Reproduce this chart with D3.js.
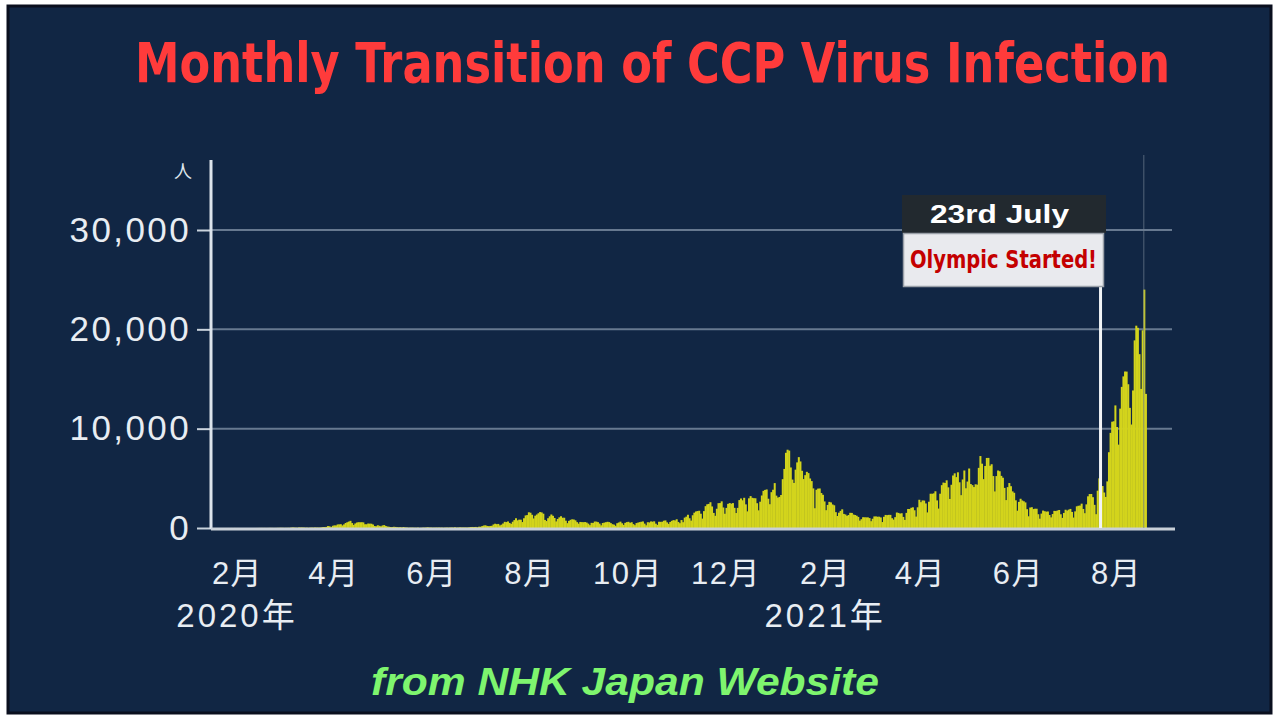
<!DOCTYPE html>
<html>
<head>
<meta charset="utf-8">
<script src="https://cdn.jsdelivr.net/npm/d3@7"></script>
<style>
  html, body { margin: 0; padding: 0; background: #ffffff; }
  svg { display: block; }
</style>
</head>
<body>
<svg id="chart" width="1280" height="720"></svg>
<script>
// ---- DATA (daily new infections) ----
const startDate = "2020-01-16";
const cases2020_01 = [1,0,0,0,0,0,0,1,1,0,2,1,3,1,4,1];
const cases2020_02 = [2,1,0,0,0,0,0,0,0,0,0,0,3,5,8,7,7,6,3,9,12,10,6,5,9,14,18,24,15];
const cases2020_03 = [12,15,17,19,33,59,45,31,27,58,54,56,44,34,35,20,43,40,39,52,43,44,37,66,95,97,112,194,173,87,221];
const cases2020_04 = [266,254,355,364,380,257,365,502,576,644,720,494,310,456,549,585,574,583,565,373,378,448,436,432,351,201,179,274,222,168];
const cases2020_05 = [260,293,201,151,123,100,96,123,108,84,70,87,55,99,57,54,30,31,41,33,25,26,38,14,21,36,40,40,73,48,45];
const cases2020_06 = [36,31,43,39,45,38,37,24,40,41,38,45,55,41,73,41,44,68,58,49,58,48,49,78,96,105,100,108,75,129];
const cases2020_07 = [129,195,249,273,209,190,207,223,355,429,385,410,258,337,453,622,596,660,510,419,631,795,981,768,839,836,598,981,1264,1301,1580];
const cases2020_08 = [1539,1331,958,1238,1356,1485,1605,1565,1441,815,700,985,1177,1360,1227,1011,661,910,1070,1182,1034,1032,737,488,719,823,877,851,770,588,436];
const cases2020_09 = [610,590,585,600,545,438,284,520,509,649,643,589,446,269,502,543,581,624,593,492,385,338,224,482,553,639,473,311,519,590];
const cases2020_10 = [623,521,582,393,281,496,543,593,628,658,443,272,581,557,659,636,670,435,315,628,621,625,731,763,568,414,609,721,794,759,878];
const cases2020_11 = [612,483,800,583,1046,1141,1333,982,743,1283,1543,1662,1706,1736,1438,947,1700,2201,2386,2425,2596,2168,1518,1228,1938,2499,2508,2684,2067,1433];
const cases2020_12 = [2024,2430,2510,2446,2507,2029,1506,2024,2811,2971,2788,3041,2379,1673,2988,3211,3041,2999,2993,2494,1777,2646,3271,3740,3832,3881,2947,2395,3608,3852,4520];
const cases2021_01 = [3258,3059,3128,3321,4915,5946,7570,7882,7790,6094,4875,4536,5874,6605,7133,6700,5759,4925,5320,5654,5526,4985,4722,3987,1989,3852,3964,3979,3520,3341,2676];
const cases2021_02 = [1791,2323,2631,2575,2368,2287,1595,1209,1542,1724,1880,1418,1360,1222,1309,1528,1518,1354,1309,1236,1116,741,886,1085,1077,1070,1067,999];
const cases2021_03 = [683,932,1165,1161,1135,1138,1064,599,1129,1316,1293,1322,1320,986,844,1093,1559,1518,1447,1486,1116,815,1522,1915,1909,2035,2081,1785,1149,2084,2843];
const cases2021_04 = [2600,2775,2759,2472,1569,2645,3451,3442,3487,3697,2779,1955,3451,4312,4573,4532,4801,4093,2924,4353,5285,5504,5121,5606,4602,3307,4882,5790,4000,4676];
const cases2021_05 = [5989,4426,4314,4120,4400,4359,6054,7244,6475,4918,6242,7051,7058,6266,6419,5229,3680,5228,5788,5713,5247,5062,4038,2808,4116,4526,4208,3686,3545,2789,1739];
const cases2021_06 = [2629,2943,2771,2689,2575,1893,1178,2058,2092,1908,1939,1939,1387,937,1450,1753,1688,1644,1662,1307,1069,1407,1724,1706,1762,1814,1381,1017,1516,1839];
const cases2021_07 = [1753,1849,1921,1618,1049,1675,2182,2238,2254,2450,1918,1490,2381,3191,3419,3423,3102,2331,1391,3758,5001,5395,4225,3574,3127,4692,7629,9576,10699,10743,12341];
const cases2021_08 = [10168,8392,12016,14207,15263,15753,15746,14472,12096,10416,13846,18889,20366,20151,17500,14000,19900,24000,13500];

const yTicks = [0, 10000, 20000, 30000];
const monthTicks = ["2020-02-01","2020-04-01","2020-06-01","2020-08-01","2020-10-01","2020-12-01",
                    "2021-02-01","2021-04-01","2021-06-01","2021-08-01"];
const yearLabels = [{date:"2020-02-01", text:"2020年"}, {date:"2021-02-01", text:"2021年"}];
const olympicDate = "2021-07-23";
const titleText = "Monthly Transition of CCP Virus Infection";
const sourceText = "from NHK Japan Website";
const unitText = "人";

// ---- BUILD ----
const allCases = [].concat(cases2020_01, cases2020_02, cases2020_03, cases2020_04, cases2020_05, cases2020_06,
  cases2020_07, cases2020_08, cases2020_09, cases2020_10, cases2020_11, cases2020_12,
  cases2021_01, cases2021_02, cases2021_03, cases2021_04, cases2021_05, cases2021_06,
  cases2021_07, cases2021_08);
const parse = d3.utcParse("%Y-%m-%d");
const d0 = parse(startDate);
const data = allCases.map((v, i) => ({ date: d3.utcDay.offset(d0, i), value: v }));

const svg = d3.select("#chart");
const navy = "#112644";
const axisFont = "'Liberation Sans', 'Noto Sans CJK JP', Arial, sans-serif";

// frame
svg.append("rect").attr("x", 0).attr("y", 0).attr("width", 1280).attr("height", 720).attr("fill", "#ffffff");
svg.append("rect").attr("x", 8).attr("y", 6).attr("width", 1263).attr("height", 707)
  .attr("fill", navy).attr("stroke", "#0a0f1e").attr("stroke-width", 3);

// scales
const x = d3.scaleUtc()
  .domain([parse("2020-02-01"), parse("2021-08-01")])
  .range([237, 1116]);
const y = d3.scaleLinear().domain([0, 30000]).range([528, 230]);

// title (condensed, slightly stretched vertically)
svg.append("text")
  .attr("transform", "translate(135,82) scale(1,1.2)")
  .attr("x", 0).attr("y", 0)
  .attr("textLength", 1035).attr("lengthAdjust", "spacingAndGlyphs")
  .attr("font-family", "'DejaVu Sans Condensed', 'DejaVu Sans', sans-serif")
  .attr("font-weight", "bold").attr("font-size", 46)
  .attr("fill", "#ff3b3b")
  .text(titleText);

// gridlines
svg.append("g").selectAll("line").data(yTicks.filter(d => d > 0)).join("line")
  .attr("x1", 211).attr("x2", 1172)
  .attr("y1", d => y(d)).attr("y2", d => y(d))
  .attr("stroke", "#7d8ea3").attr("stroke-width", 2).attr("opacity", 0.8);

// y axis
const yAxis = d3.axisLeft(y).tickValues(yTicks).tickFormat(d3.format(",")).tickSize(14).tickPadding(6);
const gy = svg.append("g").attr("transform", "translate(211,0)").call(yAxis);
gy.select(".domain").remove();
gy.selectAll(".tick line").attr("stroke", "#c9d2dc").attr("stroke-width", 2);
gy.selectAll(".tick text")
  .attr("fill", "#e8edf3")
  .attr("font-family", axisFont)
  .attr("font-size", 35)
  .attr("letter-spacing", 2.4);

svg.append("text").attr("x", 183).attr("y", 178).attr("text-anchor", "middle")
  .attr("fill", "#dfe6ee").attr("font-size", 18)
  .attr("font-family", "'Noto Sans CJK JP', sans-serif").text(unitText);

// bars
svg.append("g").selectAll("rect").data(data).join("rect")
  .attr("x", d => x(d.date))
  .attr("width", d => x(d3.utcDay.offset(d.date, 1)) - x(d.date) + 0.4)
  .attr("y", d => y(d.value))
  .attr("height", d => y(0) - y(d.value))
  .attr("fill", "#d3d41c");

// y axis line
svg.append("line").attr("x1", 211).attr("x2", 211).attr("y1", 160).attr("y2", 529)
  .attr("stroke", "#dde4ec").attr("stroke-width", 3);

// baseline
svg.append("line").attr("x1", 211).attr("x2", 1175).attr("y1", y(0) + 1).attr("y2", y(0) + 1)
  .attr("stroke", "#c9d0d8").attr("stroke-width", 3);

// hover line at end
const lastDate = data[data.length - 1].date;
svg.append("line")
  .attr("x1", x(d3.utcDay.offset(lastDate, -1)) + 0.5).attr("x2", x(d3.utcDay.offset(lastDate, -1)) + 0.5)
  .attr("y1", 155).attr("y2", 528)
  .attr("stroke", "#6f7f90").attr("stroke-width", 1).attr("opacity", 0.7);

// x axis
const xAxis = d3.axisBottom(x)
  .tickValues(monthTicks.map(parse))
  .tickFormat(d => (d.getUTCMonth() + 1) + "月")
  .tickSize(0).tickPadding(0);
const gx = svg.append("g").attr("transform", "translate(0,584)").call(xAxis);
gx.select(".domain").remove();
gx.selectAll(".tick text")
  .attr("dy", 0)
  .attr("fill", "#e8edf3")
  .attr("font-family", axisFont)
  .attr("font-size", 31)
  .attr("letter-spacing", 1.5);

svg.append("g").selectAll("text").data(yearLabels).join("text")
  .attr("x", d => x(parse(d.date)))
  .attr("y", 627)
  .attr("text-anchor", "middle")
  .attr("fill", "#e8edf3")
  .attr("font-family", axisFont)
  .attr("font-size", 33)
  .attr("letter-spacing", 3)
  .text(d => d.text);

// Olympic annotation
const ox = x(parse(olympicDate)) - 1;
svg.append("line").attr("x1", ox).attr("x2", ox).attr("y1", 286).attr("y2", 528)
  .attr("stroke", "#f2f4f6").attr("stroke-width", 3);
svg.append("rect").attr("x", 902).attr("y", 195).attr("width", 204).attr("height", 38)
  .attr("fill", "#22292f");
svg.append("text").attr("x", 930).attr("y", 223)
  .attr("textLength", 139).attr("lengthAdjust", "spacingAndGlyphs")
  .attr("fill", "#ffffff").attr("font-family", "'Liberation Sans', Arial, sans-serif")
  .attr("font-weight", "bold").attr("font-size", 26).text("23rd July");
svg.append("rect").attr("x", 903.5).attr("y", 233.5).attr("width", 200).attr("height", 53)
  .attr("fill", "#e9eaee").attr("stroke", "#9aa0a8").attr("stroke-width", 1.5);
svg.append("text").attr("x", 910).attr("y", 268)
  .attr("textLength", 187).attr("lengthAdjust", "spacingAndGlyphs")
  .attr("fill", "#c40000").attr("font-family", "'DejaVu Sans Condensed', 'Liberation Sans Narrow', sans-serif")
  .attr("font-weight", "bold").attr("font-size", 25).text("Olympic Started!");

// source
svg.append("text").attr("x", 371).attr("y", 695)
  .attr("textLength", 508).attr("lengthAdjust", "spacingAndGlyphs")
  .attr("fill", "#7ef56e").attr("font-family", "'Liberation Sans', Arial, sans-serif")
  .attr("font-weight", "bold").attr("font-style", "italic").attr("font-size", 38)
  .text(sourceText);
</script>
</body>
</html>
